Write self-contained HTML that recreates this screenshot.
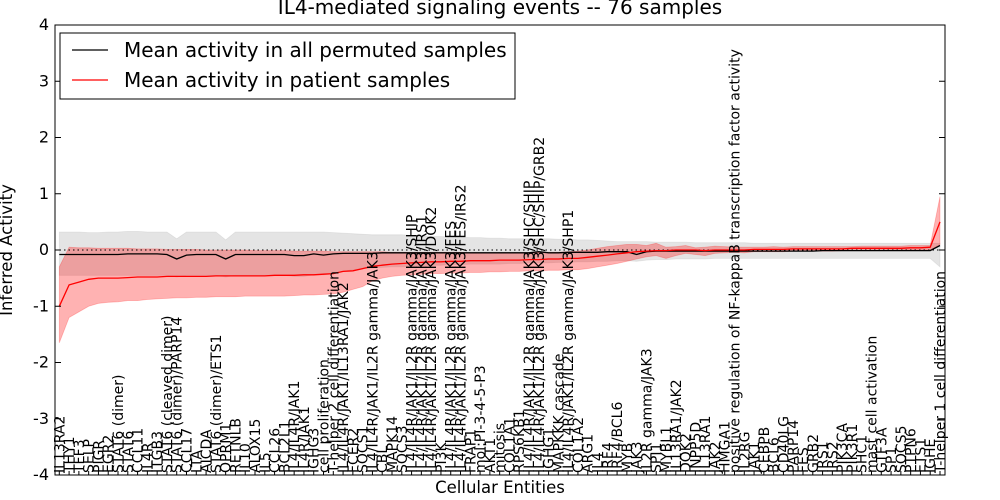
<!DOCTYPE html>
<html><head><meta charset="utf-8"><style>
body{margin:0;background:#fff}
svg{font-family:"DejaVu Sans","Liberation Sans",sans-serif;display:block}
</style></head><body>
<svg id="chart" width="1000" height="500" viewBox="0 0 1000 500">
<rect width="1000" height="500" fill="#fff"/>
<text x="500" y="14" text-anchor="middle" font-size="20">IL4-mediated signaling events -- 76 samples</text>
<g id="plot"></g>
<text x="500" y="493" text-anchor="middle" font-size="16.5">Cellular Entities</text>
<text transform="translate(12,250) rotate(-90)" text-anchor="middle" font-size="16.5">Inferred Activity</text>
<g>
<rect x="60" y="33" width="455" height="66" fill="#fff" stroke="#000" stroke-width="1"/>
<line x1="72" y1="50" x2="108" y2="50" stroke="#000" stroke-width="1.2"/>
<text x="124" y="57" font-size="20">Mean activity in all permuted samples</text>
<line x1="72" y1="80" x2="108" y2="80" stroke="#f00" stroke-width="1.2"/>
<text x="124" y="87" font-size="20">Mean activity in patient samples</text>
</g>
</svg>
<script>
const categories=["IL13RA2","THY1","TFF3","SELP","PIGR","EGR2","STAT6 (dimer)","STAT6","CCL11","IL4R","ITGB3","STAT6 (cleaved dimer)","STAT6 (dimer)/PARP14","CCL17","LTA","AICDA","STAT6 (dimer)/ETS1","OPRM1","RETNLB","IL10","ALOX15","IL5","CCL26","BCL2L1","IL4/IL4R/JAK1","IL4R/JAK1","IGHG3","cell proliferation","T-helper 2 cell differentiation","IL4/IL4R/JAK1/IL13RA1/JAK2","FCER2","SOCS1","IL4/IL4R/JAK1/IL2R gamma/JAK3","CBL","MAPK14","SOCS3","IL4/IL4R/JAK1/IL2R gamma/JAK3/SHIP","IL4/IL4R/JAK1/IL2R gamma/JAK3/IRS1","IL4/IL4R/JAK1/IL2R gamma/JAK3/DOK2","PI3K","IL4/IL4R/JAK1/IL2R gamma/JAK3/FES","IL4/IL4R/JAK1/IL2R gamma/JAK3/FES/IRS2","FRAP1","mol:PI-3-4-5-P3","AKT1","mitosis","COL1A1","RPS6KB1","IL4/IL4R/JAK1/IL2R gamma/JAK3/SHC/SHIP","IL4/IL4R/JAK1/IL2R gamma/JAK3/SHC/SHIP/GRB2","IGHG1","MAPKKK cascade","IL4/IL4R/JAK1/IL2R gamma/JAK3/SHP1","COL1A2","ARG1","IL4","IRF4","IRF4/BCL6","MYB","JAK3","IL2R gamma/JAK3","SPI1","MYBL1","IL13RA1/JAK2","DOK2","INPP5D","IL13RA1","JAK2","HMGA1","positive regulation of NF-kappaB transcription factor activity","IL2RG","JAK1","CEBPB","BCL6","CD40LG","PARP14","FES","GRB2","IRS1","IRS2","PIK3CA","PIK3R1","SHC1","mast cell activation","GTF3A","SP1","SOCS5","PTPN6","ETS1","IGHE","T-helper 1 cell differentiation"];
const patientMean=[-1.0,-0.62,-0.57,-0.52,-0.5,-0.5,-0.5,-0.49,-0.48,-0.48,
-0.48,-0.47,-0.47,-0.47,-0.47,-0.47,-0.46,-0.46,-0.46,-0.46,
-0.46,-0.46,-0.45,-0.45,-0.45,-0.44,-0.44,-0.43,-0.42,-0.38,
-0.37,-0.33,-0.29,-0.27,-0.25,-0.24,-0.23,-0.22,-0.21,-0.21,
-0.2,-0.2,-0.19,-0.19,-0.19,-0.18,-0.18,-0.18,-0.17,-0.17,
-0.16,-0.16,-0.15,-0.15,-0.13,-0.11,-0.09,-0.07,-0.05,-0.03,
-0.02,-0.01,-0.01,0,0,0,-0.01,0,0,0,
0,0.01,0.01,0.01,0.01,0.02,0.02,0.02,0.02,0.02,
0.02,0.03,0.03,0.03,0.03,0.03,0.03,0.04,0.04,0.05,0.5];
const patientLow=[-1.65,-1.2,-1.1,-1.0,-0.95,-0.93,-0.92,-0.9,-0.9,-0.88,
-0.87,-0.86,-0.85,-0.85,-0.84,-0.84,-0.83,-0.83,-0.83,-0.82,
-0.82,-0.82,-0.82,-0.82,-0.81,-0.8,-0.8,-0.79,-0.78,-0.75,
-0.7,-0.65,-0.55,-0.5,-0.47,-0.45,-0.44,-0.43,-0.42,-0.42,
-0.41,-0.41,-0.4,-0.4,-0.39,-0.39,-0.38,-0.38,-0.37,-0.37,
-0.36,-0.36,-0.35,-0.35,-0.33,-0.3,-0.27,-0.24,-0.2,-0.16,
-0.12,-0.1,-0.15,-0.1,-0.06,-0.08,-0.1,-0.06,-0.05,-0.04,
-0.05,-0.03,-0.03,-0.03,-0.03,-0.02,-0.02,-0.02,-0.02,-0.02,
-0.01,-0.01,-0.01,-0.01,-0.01,0,0,0,0,0,0.1];
const patientHigh=[-0.3,0.05,0.04,0.04,0.03,0.03,0.03,0.03,0.02,0.02,
0.02,0.01,0.01,0.01,0.01,0,0,0,0,0,
-0.01,-0.01,-0.01,-0.01,-0.02,-0.02,-0.02,-0.02,-0.03,-0.03,
-0.03,-0.03,-0.03,-0.03,-0.04,-0.04,-0.04,-0.04,-0.04,-0.04,
-0.04,-0.04,-0.05,-0.05,-0.05,-0.05,-0.05,-0.05,-0.05,-0.04,
-0.04,-0.04,-0.03,-0.02,0,0.03,0.06,0.08,0.1,0.1,
0.08,0.12,0.05,0.06,0.08,0.04,0.05,0.07,0.06,0.05,
0.05,0.05,0.05,0.06,0.05,0.06,0.06,0.06,0.06,0.06,
0.06,0.06,0.07,0.07,0.07,0.07,0.07,0.08,0.08,0.08,0.95];
const permMean=[-0.08,-0.08,-0.08,-0.08,-0.08,-0.08,-0.08,-0.07,-0.07,-0.07,
-0.07,-0.08,-0.16,-0.09,-0.08,-0.08,-0.08,-0.16,-0.08,-0.08,
-0.08,-0.08,-0.08,-0.08,-0.1,-0.1,-0.07,-0.09,-0.07,-0.06,
-0.06,-0.06,-0.06,-0.05,-0.05,-0.05,-0.05,-0.05,-0.05,-0.05,
-0.05,-0.05,-0.05,-0.05,-0.05,-0.05,-0.05,-0.05,-0.05,-0.03,
-0.05,-0.05,-0.04,-0.04,-0.04,-0.04,-0.03,-0.03,-0.03,-0.08,
-0.03,-0.02,-0.02,-0.02,-0.02,-0.02,-0.02,-0.02,-0.02,-0.02,
-0.02,-0.02,-0.02,-0.02,-0.02,-0.02,-0.02,-0.02,-0.01,-0.01,
-0.01,-0.01,-0.01,-0.01,-0.01,-0.01,-0.01,-0.01,-0.01,-0.01,0.08];
const permHigh=[0.32,0.32,0.32,0.31,0.31,0.32,0.32,0.33,0.33,0.32,
0.32,0.32,0.2,0.32,0.32,0.32,0.32,0.18,0.32,0.32,
0.32,0.32,0.32,0.32,0.32,0.32,0.32,0.32,0.31,0.3,
0.29,0.28,0.27,0.27,0.27,0.27,0.26,0.25,0.24,0.24,
0.23,0.23,0.22,0.22,0.21,0.21,0.2,0.2,0.2,0.2,
0.2,0.19,0.19,0.18,0.18,0.17,0.16,0.15,0.15,0.15,
0.15,0.14,0.14,0.14,0.14,0.13,0.13,0.13,0.13,0.13,
0.13,0.12,0.12,0.12,0.12,0.12,0.12,0.12,0.12,0.12,
0.12,0.12,0.12,0.12,0.12,0.12,0.12,0.12,0.12,0.12,0.12];
const permLow=[-0.45,-0.45,-0.45,-0.45,-0.45,-0.45,-0.45,-0.45,-0.45,-0.45,
-0.45,-0.45,-0.48,-0.45,-0.45,-0.45,-0.45,-0.48,-0.45,-0.45,
-0.45,-0.45,-0.45,-0.45,-0.47,-0.47,-0.44,-0.44,-0.42,-0.38,
-0.35,-0.33,-0.32,-0.31,-0.3,-0.3,-0.29,-0.28,-0.27,-0.27,
-0.26,-0.26,-0.25,-0.25,-0.25,-0.25,-0.24,-0.24,-0.23,-0.23,
-0.23,-0.22,-0.22,-0.21,-0.21,-0.2,-0.2,-0.19,-0.19,-0.2,
-0.18,-0.17,-0.17,-0.16,-0.16,-0.16,-0.16,-0.15,-0.15,-0.15,
-0.15,-0.15,-0.15,-0.15,-0.15,-0.15,-0.15,-0.15,-0.15,-0.15,
-0.15,-0.15,-0.15,-0.15,-0.15,-0.15,-0.15,-0.15,-0.15,-0.15,-0.3];
const yTicks=[4,3,2,1,0,-1,-2,-3,-4];

const L=55,R=945,T=25,B=475,NS="http://www.w3.org/2000/svg";
const n=categories.length;
const xs=i=>59.3+i*(940-59.3)/(n-1);
const ys=v=>250-v*56.25;
const g=document.getElementById('plot');
function el(tag,attrs,parent){const e=document.createElementNS(NS,tag);for(const k in attrs)e.setAttribute(k,attrs[k]);(parent||g).appendChild(e);return e;}
function band(lo,hi,fill,op,name){
  let d='M'+lo.map((v,i)=>xs(i).toFixed(1)+','+ys(v).toFixed(1)).join('L');
  for(let i=n-1;i>=0;i--)d+='L'+xs(i).toFixed(1)+','+ys(hi[i]).toFixed(1);
  const p=el('path',{d:d+'Z',fill:fill,'fill-opacity':op,stroke:fill,'stroke-opacity':op*0.8,'stroke-width':0.8});
  
  
}
function line(vals,color,name){
  const p=el('path',{d:'M'+vals.map((v,i)=>xs(i).toFixed(1)+','+ys(v).toFixed(1)).join('L'),fill:'none',stroke:color,'stroke-width':1.3});
  
  
}
band(permLow,permHigh,'#bbbbbb',0.4,'permuted-band');
band(patientLow,patientHigh,'#ff0000',0.3,'patient-band');
const zl=el('line',{x1:L,x2:R,y1:ys(0),y2:ys(0),stroke:'#000','stroke-dasharray':'1.5,3','stroke-width':1});


line(permMean,'#000','permuted-mean-line');
line(patientMean,'#ff0000','patient-mean-line');
const fr=el('rect',{x:L,y:T,width:R-L,height:B-T,fill:'none',stroke:'#000','stroke-width':1});


yTicks.forEach(v=>{
  el('line',{x1:L,x2:L+6,y1:ys(v),y2:ys(v),stroke:'#000'});
  el('line',{x1:R-6,x2:R,y1:ys(v),y2:ys(v),stroke:'#000'});
  const t=el('text',{x:L-6,y:ys(v)+5,'text-anchor':'end','font-size':16});
  t.textContent=v;
  
  
});
categories.forEach((c,i)=>{
  const x=xs(i);
  el('line',{x1:x,x2:x,y1:B,y2:B-4,stroke:'#000'});
  const t=el('text',{transform:`translate(${(x+5).toFixed(1)},${B-2}) rotate(-90)`,'font-size':14});
  t.textContent=c;
  
  
});
</script>
</body></html>
